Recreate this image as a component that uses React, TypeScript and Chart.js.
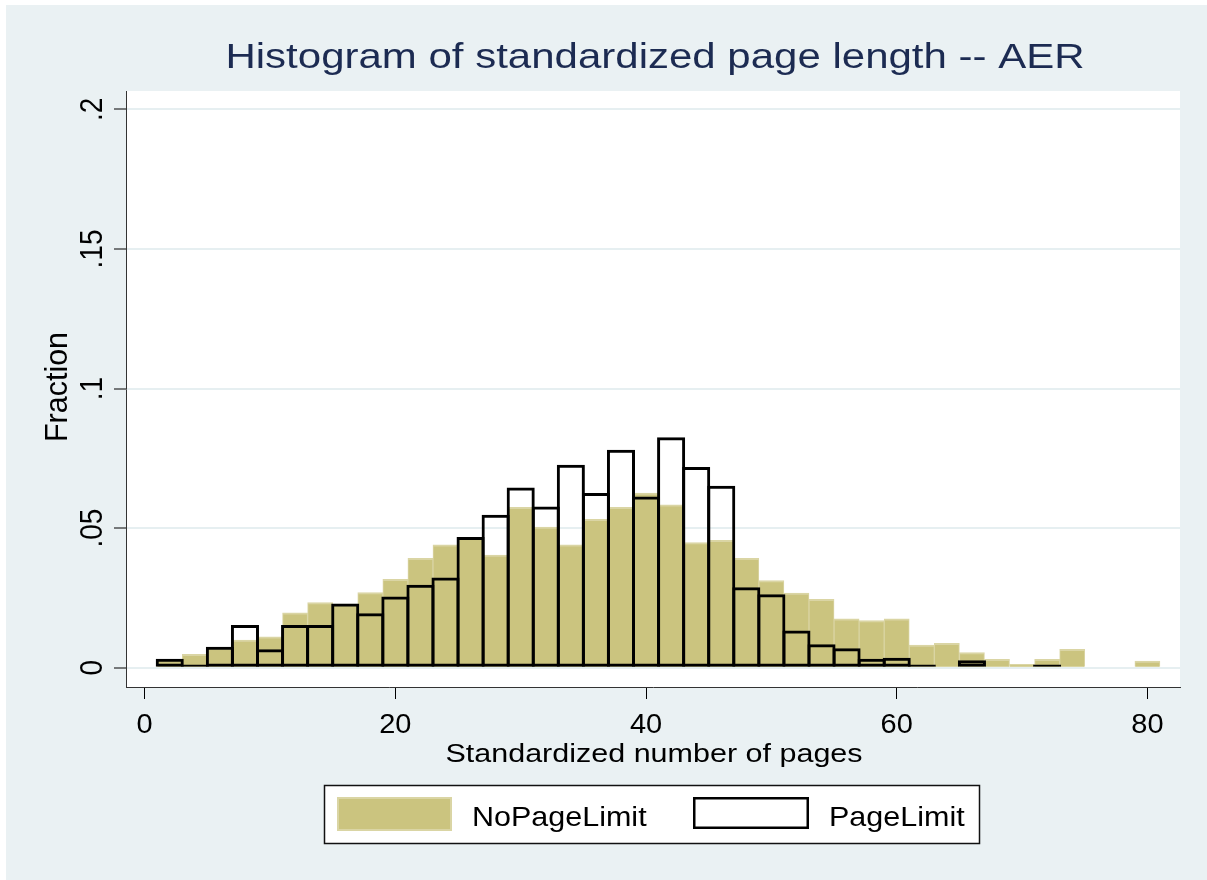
import React, { useEffect, useRef } from "react";
import { Chart, registerables } from "chart.js";

Chart.register(...registerables);

// ---- data ----
const BIN_CENTERS = [
  2, 4, 6, 8, 10, 12, 14, 16, 18, 20, 22, 24, 26, 28, 30, 32, 34, 36, 38, 40,
  42, 44, 46, 48, 50, 52, 54, 56, 58, 60, 62, 64, 66, 68, 70, 72, 74, 76, 78, 80,
];
const NO_PAGE_LIMIT = [
  0.003, 0.0048, 0.007, 0.0099, 0.0111, 0.0197, 0.0233, 0.0228, 0.0269, 0.0317,
  0.0392, 0.044, 0.0465, 0.0404, 0.0575, 0.0504, 0.044, 0.0532, 0.0575, 0.0626,
  0.0584, 0.0448, 0.0456, 0.0392, 0.0312, 0.0267, 0.0245, 0.0175, 0.0169, 0.0175,
  0.0081, 0.0087, 0.0054, 0.003, 0.0012, 0.003, 0.0066, 0, 0, 0.0024,
];
const PAGE_LIMIT = [
  0.0032, 0.0012, 0.0075, 0.0153, 0.0066, 0.0153, 0.0153, 0.023, 0.0195, 0.0255,
  0.0297, 0.0323, 0.0468, 0.0548, 0.0646, 0.0578, 0.0727, 0.0626, 0.0781, 0.0613,
  0.0826, 0.0719, 0.0652, 0.0288, 0.0263, 0.0133, 0.0084, 0.007, 0.0032, 0.0036,
  0.0012, 0, 0.0027, 0, 0, 0.0012, 0, 0, 0, 0,
];
const SERIES_NAMES = ["NoPageLimit", "PageLimit"];
const X_TICKS = [0, 20, 40, 60, 80];
const X_TICK_LABELS = ["0", "20", "40", "60", "80"];
const Y_TICKS = [0, 0.05, 0.1, 0.15, 0.2];
const Y_TICK_LABELS = ["0", ".05", ".1", ".15", ".2"];
const TITLE = "Histogram of standardized page length -- AER";
const X_TITLE = "Standardized number of pages";
const Y_TITLE = "Fraction";

// ---- styling ----
const W = 1201;
const H = 875;
const BG = "#EAF1F3";
const GRID = "#E6EFF1";
const TAN = "#CBC47F";
const TAN_EDGE = "#DAD5A4";
const NAVY = "#1C2B52";
const FONT = '"Liberation Sans", Arial, Helvetica, sans-serif';

function drawText(
  ctx: CanvasRenderingContext2D,
  s: string,
  x: number,
  y: number,
  size: number,
  color: string,
  align: CanvasTextAlign,
  rot: number,
  sy: number
) {
  ctx.save();
  ctx.translate(x, y);
  if (rot) ctx.rotate(rot);
  ctx.scale(1, sy);
  ctx.font = `${size}px ${FONT}`;
  ctx.fillStyle = color;
  ctx.textAlign = align;
  ctx.textBaseline = "alphabetic";
  ctx.fillText(s, 0, 0);
  ctx.restore();
}

const decor = {
  id: "decor",
  beforeDraw(chart: any) {
    const { ctx, chartArea: a } = chart;
    ctx.save();
    ctx.fillStyle = BG;
    ctx.fillRect(0, 0, chart.width, chart.height);
    ctx.fillStyle = "#ffffff";
    ctx.fillRect(a.left, a.top, a.right - a.left, a.bottom - a.top);
    ctx.restore();
  },
  afterDraw(chart: any) {
    const { ctx } = chart;
    const xs = chart.scales.x;
    const ys = chart.scales.y;

    // title
    drawText(ctx, TITLE, 649, 63, 42, NAVY, "center", 0, 0.83);

    // x tick labels
    X_TICKS.forEach((v, i) => {
      drawText(ctx, X_TICK_LABELS[i], xs.getPixelForValue(v), 728, 29, "#000", "center", 0, 0.97);
    });
    // x title
    drawText(ctx, X_TITLE, 648, 757, 30.5, "#000", "center", 0, 0.84);

    // y tick labels (rotated)
    Y_TICKS.forEach((v, i) => {
      drawText(ctx, Y_TICK_LABELS[i], 96, ys.getPixelForValue(v), 28, "#000", "center", -Math.PI / 2, 1.15);
    });
    // y title
    drawText(ctx, Y_TITLE, 61, 382, 30.5, "#000", "center", -Math.PI / 2, 1.05);

    // legend
    ctx.save();
    ctx.fillStyle = "#ffffff";
    ctx.fillRect(318, 780, 655, 58);
    ctx.strokeStyle = "#111";
    ctx.lineWidth = 1.5;
    ctx.strokeRect(318.5, 780.5, 655, 58);

    ctx.fillStyle = TAN;
    ctx.fillRect(331, 792, 115, 34);
    ctx.strokeStyle = TAN_EDGE;
    ctx.lineWidth = 2;
    ctx.strokeRect(332, 793, 113, 32);

    ctx.fillStyle = "#ffffff";
    ctx.fillRect(687, 792, 116, 32);
    ctx.strokeStyle = "#000";
    ctx.lineWidth = 2.5;
    ctx.strokeRect(688.25, 793.25, 113.5, 29.5);
    ctx.restore();

    drawText(ctx, SERIES_NAMES[0], 466, 821, 30.5, "#000", "left", 0, 0.88);
    drawText(ctx, SERIES_NAMES[1], 823, 821, 30.5, "#000", "left", 0, 0.88);
  },
};

export default function App() {
  const ref = useRef<HTMLCanvasElement | null>(null);

  useEffect(() => {
    if (!ref.current) return;
    const chart = new Chart(ref.current, {
      type: "bar",
      data: {
        datasets: [
          {
            label: SERIES_NAMES[1],
            data: BIN_CENTERS.map((x, i) => ({ x, y: PAGE_LIMIT[i] })),
            backgroundColor: "rgba(0,0,0,0)",
            borderColor: "#000",
            borderWidth: 3,
            borderSkipped: false,
            barPercentage: 1.12,
            categoryPercentage: 1,
            grouped: false,
            order: 0,
          } as any,
          {
            label: SERIES_NAMES[0],
            data: BIN_CENTERS.map((x, i) => ({ x, y: NO_PAGE_LIMIT[i] })),
            backgroundColor: TAN,
            borderColor: TAN_EDGE,
            borderWidth: { top: 2, left: 1, right: 1, bottom: 0 },
            borderSkipped: false,
            barPercentage: 1,
            categoryPercentage: 1,
            grouped: false,
            order: 1,
          } as any,
        ],
      },
      options: {
        responsive: false,
        animation: false,
        events: [],
        layout: { padding: { top: 86, right: 27, bottom: 173, left: 0 } },
        plugins: {
          legend: { display: false },
          title: { display: false },
          tooltip: { enabled: false },
        },
        scales: {
          x: {
            type: "linear",
            min: -1.49,
            max: 82.6,
            offset: false,
            afterBuildTicks: (s: any) => {
              s.ticks = X_TICKS.map((v) => ({ value: v }));
            },
            afterFit: (s: any) => {
              s.height = 20;
            },
            ticks: { display: false },
            grid: {
              drawOnChartArea: false,
              drawTicks: true,
              tickLength: 12,
              tickColor: "#000",
              tickWidth: 1,
              offset: false,
            },
            border: { display: true, color: "#333", width: 1 },
          },
          y: {
            type: "linear",
            min: -0.0069,
            max: 0.2066,
            afterBuildTicks: (s: any) => {
              s.ticks = Y_TICKS.map((v) => ({ value: v }));
            },
            afterFit: (s: any) => {
              s.width = 120;
            },
            ticks: { display: false },
            grid: {
              color: GRID,
              lineWidth: 2,
              drawTicks: true,
              tickLength: 12,
              tickColor: "#000",
              tickWidth: 1,
            },
            border: { display: true, color: "#333", width: 1 },
          },
        },
      } as any,
      plugins: [decor],
    });
    return () => chart.destroy();
  }, []);

  return (
    <div style={{ position: "absolute", left: 6, top: 5, width: W, height: H }}>
      <canvas ref={ref} width={W} height={H} style={{ display: "block", width: W, height: H }} />
    </div>
  );
}
